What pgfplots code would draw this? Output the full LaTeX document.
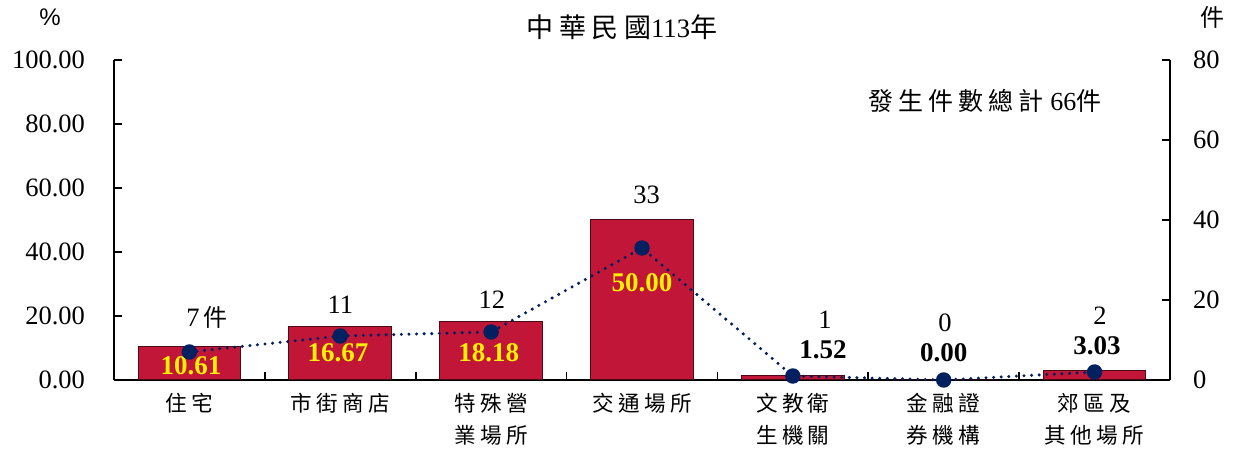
\documentclass[border=0pt]{standalone}
\usepackage{fontspec}
\setmainfont{Liberation Serif}
\newfontfamily\cjk[LetterSpace=20]{Noto Sans CJK TC}
\newfontfamily\cjkplain{Noto Sans CJK TC}
\newfontfamily\sans{Liberation Sans}
\usepackage{pgfplots}
\pgfplotsset{compat=1.18}
\definecolor{barred}{RGB}{193,22,55}
\definecolor{navy}{RGB}{0,32,96}

\pgfplotstableread{
x pct cnt
0 10.61 7
1 16.67 11
2 18.18 12
3 50.00 33
4 1.52 1
5 0.00 0
6 3.03 2
}\data

\begin{document}
\begin{tikzpicture}
\begin{axis}[
 scale only axis, width=528pt, height=160pt,
 xmin=-0.5, xmax=6.5, ymin=0, ymax=100,
 axis y line*=left, axis x line*=bottom,
 axis line style={-, line width=1pt},
 tick align=inside,
 xtick={0,...,6},
 xticklabels={{住宅},{市街商店},{特殊營\\業場所},{交通場所},{文教衛\\生機關},{金融證\\券機構},{郊區及\\其他場所}},
 xticklabel style={font=\cjk\fontsize{10.8}{16}\selectfont, align=center, yshift=-3pt},
 major x tick style={draw=none},
 minor xtick={0.5,1.5,...,5.5},
 minor tick length=4pt,
 minor x tick style={line width=0.8pt, black},
 ytick={0,20,...,100},
 major tick length=4pt,
 ytick style={line width=0.8pt, black},
 yticklabel style={font=\fontsize{13.25}{16}\selectfont, xshift=-11pt, /pgf/number format/.cd, fixed, fixed zerofill, precision=2, assume math mode=true},
 clip=false,
]
\addplot[ybar, bar width=0.68, fill=barred, draw=black!60!barred, line width=0.5pt] table[x=x,y=pct]{\data};
\begin{scope}[every node/.style={font=\bfseries\fontsize{13.5}{16}\selectfont, text=yellow}]
\node at (axis cs:0.01,4.4) {10.61};
\node at (axis cs:0.985,8.4) {16.67};
\node at (axis cs:1.985,8.6) {18.18};
\node at (axis cs:3.0,30.3) {50.00};
\end{scope}
\begin{scope}[every node/.style={font=\bfseries\fontsize{13.5}{16}\selectfont, text=black}]
\node at (axis cs:4.2,9.4) {1.52};
\node at (axis cs:5.0,8.4) {0.00};
\node at (axis cs:6.016,10.6) {3.03};
\end{scope}
\begin{scope}[every node/.style={font=\fontsize{13.25}{16}\selectfont, text=black}]
\node at (axis cs:0.116,19.4) {7{\cjkplain\fontsize{12}{14}\selectfont\,件}};
\node at (axis cs:1.0,23.4) {11};
\node at (axis cs:2.005,25) {12};
\node at (axis cs:3.03,57.8) {33};
\node at (axis cs:4.213,18.75) {1};
\node at (axis cs:5.008,17.8) {0};
\node at (axis cs:6.036,20) {2};
\end{scope}
\end{axis}
\begin{axis}[
 scale only axis, width=528pt, height=160pt,
 xmin=-0.5, xmax=6.5, ymin=0, ymax=80,
 axis y line*=right, axis x line=none,
 axis line style={-, line width=1pt},
 tick align=inside,
 ytick={0,20,...,80},
 major tick length=4pt,
 ytick style={line width=0.8pt, black},
 yticklabel style={font=\fontsize{13.25}{16}\selectfont, xshift=8pt, /pgf/number format/assume math mode=true},
 clip=false,
]
\addplot[navy, line width=1.7pt, dash pattern=on 0pt off 3.8pt, line cap=round, mark=*, mark size=3pt, mark options={solid, fill=navy, draw=navy}] table[x=x,y=cnt]{\data};
\end{axis}
\node[font=\sans\fontsize{12}{14}\selectfont] at (-32pt,181.5pt) {\%};
\node[font=\cjkplain\fontsize{12}{14}\selectfont] at (549pt,181.5pt) {件};
\node[font=\fontsize{13.3}{16}\selectfont] at (254pt,176.5pt) {{\cjk\fontsize{13.5}{16}\selectfont 中華民國}113{\cjkplain\fontsize{13.5}{16}\selectfont 年}};
\node[font=\fontsize{13}{16}\selectfont] at (435.5pt,139.5pt) {{\cjk\fontsize{12.5}{16}\selectfont 發生件數總計} 66{\cjkplain\fontsize{12.5}{16}\selectfont 件}};
\pgfresetboundingbox
\path[use as bounding box] (-57pt,-37pt) rectangle (562.5pt,190pt);
\end{tikzpicture}
\end{document}
